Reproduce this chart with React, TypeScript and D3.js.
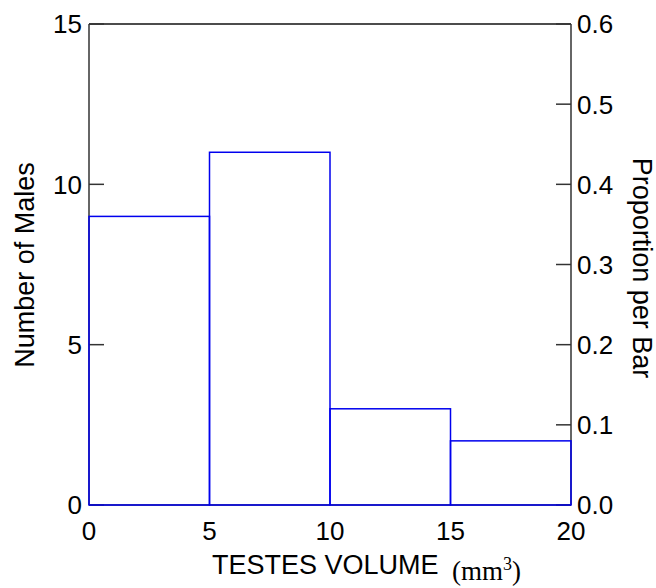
import React from "react";
import * as d3 from "d3";

const binStarts = [0, 5, 10, 15];
const binWidth = 5;
const counts = [9, 11, 3, 2];
const leftTicks = [0, 5, 10, 15];
const rightTicks = [0, 0.1, 0.2, 0.3, 0.4, 0.5, 0.6];
const xTicks = [0, 5, 10, 15, 20];

export default function App() {
  const W = 656, H = 588;
  const L = 89, R = 571, T = 24, B = 505;
  const x = d3.scaleLinear().domain([0, 20]).range([L, R]);
  const y = d3.scaleLinear().domain([0, 15]).range([B, T]);
  const y2 = d3.scaleLinear().domain([0, 0.6]).range([B, T]);
  const font = "Liberation Sans, Arial, sans-serif";
  const fs = 26;
  const tick = 15;
  const axisColor = "#333";
  return (
    <svg width={W} height={H} style={{ position: "absolute", left: 0, top: 0 }}>
      <rect width={W} height={H} fill="white" />
      <line x1={L} x2={R} y1={T} y2={T} stroke="#111" strokeWidth={1.5} />
      <line x1={L} x2={L} y1={T} y2={B} stroke={axisColor} strokeWidth={1.5} />
      <line x1={R} x2={R} y1={T} y2={B} stroke={axisColor} strokeWidth={1.5} />
      <line x1={L} x2={R} y1={B} y2={B} stroke={axisColor} strokeWidth={1.5} />
      {leftTicks.map((t) => (
        <g key={"l" + t}>
          <line x1={L} x2={L + tick} y1={y(t)} y2={y(t)} stroke={axisColor} strokeWidth={1.5} />
          <text x={82} y={y(t)} dy="0.36em" textAnchor="end" fontFamily={font} fontSize={fs}>
            {t}
          </text>
        </g>
      ))}
      {rightTicks.map((t) => (
        <g key={"r" + t}>
          <line x1={R - tick} x2={R} y1={y2(t)} y2={y2(t)} stroke={axisColor} strokeWidth={1.5} />
          <text x={577} y={y2(t)} dy="0.36em" textAnchor="start" fontFamily={font} fontSize={fs}>
            {t.toFixed(1)}
          </text>
        </g>
      ))}
      {xTicks.map((t) => (
        <text key={"x" + t} x={x(t)} y={540} textAnchor="middle" fontFamily={font} fontSize={fs}>
          {t}
        </text>
      ))}
      {binStarts.map((s, i) => (
        <rect
          key={"b" + i}
          x={x(s)}
          y={y(counts[i])}
          width={x(s + binWidth) - x(s)}
          height={B - y(counts[i])}
          fill="none"
          stroke="#0000ee"
          strokeWidth={1.5}
        />
      ))}
      <text
        transform={`translate(34,265) rotate(-90)`}
        textAnchor="middle"
        fontFamily={font}
        fontSize={27}
      >
        Number of Males
      </text>
      <text
        transform={`translate(633,268) rotate(90)`}
        textAnchor="middle"
        fontFamily={font}
        fontSize={27}
      >
        Proportion per Bar
      </text>
      <text x={212} y={574} fontFamily={font} fontSize={27}>
        TESTES VOLUME
      </text>
      <text x={452} y={580} fontFamily="Liberation Serif, Times New Roman, serif" fontSize={27}>
        (mm
        <tspan dy={-10} fontSize={18}>3</tspan>
        <tspan dy={10}>)</tspan>
      </text>
    </svg>
  );
}
